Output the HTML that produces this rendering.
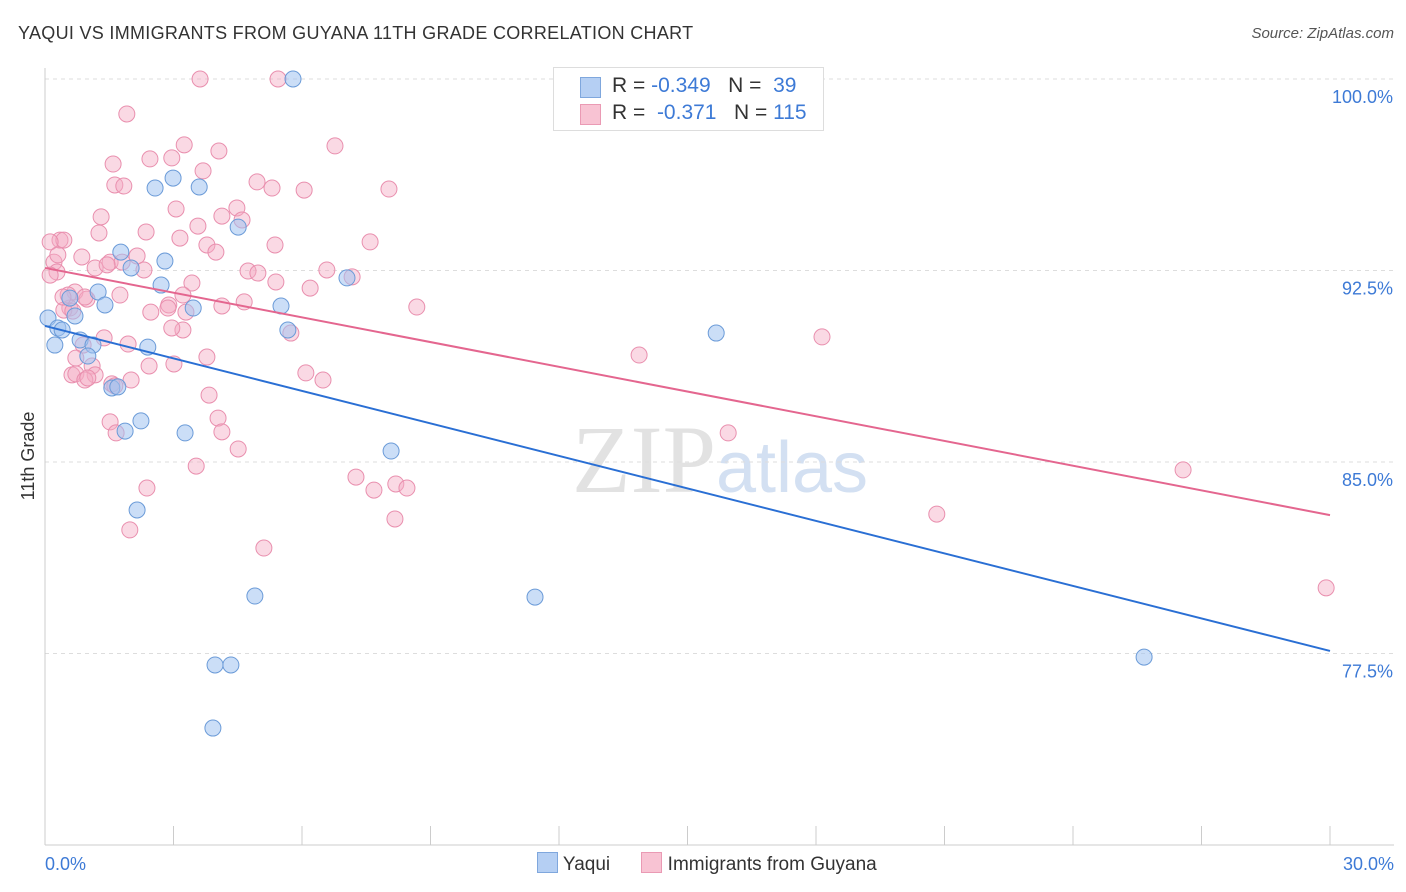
<!DOCTYPE html>
<html><head><meta charset="utf-8"><style>
body{margin:0;background:#fff;font-family:"Liberation Sans",sans-serif;}
#wrap{position:relative;width:1406px;height:892px;overflow:hidden;}
.t{position:absolute;white-space:nowrap;}
</style></head><body><div id="wrap">
<div class="t" style="left:18px;top:23px;font-size:18px;color:#333;letter-spacing:0.3px;">YAQUI VS IMMIGRANTS FROM GUYANA 11TH GRADE CORRELATION CHART</div>
<div class="t" style="right:12px;top:25px;font-size:15px;color:#555;font-style:italic;">Source: ZipAtlas.com</div>
<svg id="svg" width="1406" height="892" style="position:absolute;left:0;top:0">
<text x="720" y="492" text-anchor="middle" font-size="96" font-family="Liberation Serif,serif" fill="#e2e2e2">ZIP<tspan font-family="Liberation Sans,sans-serif" font-size="72" fill="#d3e0f2">atlas</tspan></text>
<g id="grid"></g><g id="pts"></g><g id="lines"></g>
<text x="34" y="456" transform="rotate(-90 34 456)" text-anchor="middle" font-size="18" fill="#333">11th Grade</text>
</svg>
<div style="position:absolute;left:553px;top:67px;width:269px;height:62px;border:1px solid #ddd;background:#fff;font-size:21px;">
<div style="position:absolute;left:26px;top:9px;width:19px;height:19px;background:#b5cff3;border:1px solid #7fa7dd;"></div>
<div class="t" style="left:58px;top:6px;color:#333;">R = <span style="color:#3d7ad6">-0.349</span>&nbsp;&nbsp;&nbsp;N = &nbsp;<span style="color:#3d7ad6">39</span></div>
<div style="position:absolute;left:26px;top:36px;width:19px;height:19px;background:#f8c3d3;border:1px solid #ea9ab4;"></div>
<div class="t" style="left:58px;top:33px;color:#333;">R = &nbsp;<span style="color:#3d7ad6">-0.371</span>&nbsp;&nbsp;&nbsp;N = <span style="color:#3d7ad6">115</span></div>
</div>
<div style="position:absolute;left:537px;top:852px;font-size:19px;color:#333;">
<span style="display:inline-block;width:19px;height:19px;background:#b5cff3;border:1px solid #7fa7dd;vertical-align:-3px;"></span> Yaqui
<span style="display:inline-block;width:19px;height:19px;background:#f8c3d3;border:1px solid #ea9ab4;vertical-align:-3px;margin-left:26px;"></span> Immigrants from Guyana</div>
</div>
<script>
const yaquiX=[5.79,2.99,2.57,3.60,4.51,1.77,2.80,2.01,7.05,1.24,2.71,1.40,3.46,5.51,0.58,0.70,0.07,0.30,0.40,5.67,15.67,0.82,1.12,0.23,2.40,1.00,1.56,1.70,1.87,2.24,3.27,8.08,2.15,4.90,11.44,3.97,4.34,25.66,3.92];
const yaquiY=[100,96.12,95.73,95.77,94.20,93.22,92.87,92.60,92.21,91.66,91.93,91.15,91.03,91.11,91.42,90.72,90.64,90.25,90.17,90.17,90.05,89.78,89.58,89.58,89.50,89.15,87.90,87.94,86.21,86.61,86.14,85.43,83.12,79.75,79.71,77.05,77.05,77.36,74.58];
const guyX=[3.62,5.44,1.91,6.77,3.25,4.06,2.45,2.96,1.59,3.69,4.95,1.63,1.84,5.30,6.05,8.03,3.06,4.48,4.13,1.31,4.60,3.57,2.36,1.26,3.15,0.35,0.44,0.12,3.78,5.37,7.59,3.99,1.52,0.86,0.21,2.15,1.80,1.17,1.45,4.74,2.31,6.58,7.17,4.97,0.28,0.12,3.43,5.39,6.19,0.70,0.54,1.75,0.98,3.22,4.13,4.65,2.89,0.93,0.58,0.44,0.65,2.87,2.47,8.68,3.29,3.22,2.96,5.74,1.38,1.94,0.89,18.14,13.87,0.72,3.78,2.43,3.01,1.10,6.09,0.63,0.72,1.17,0.93,1.00,6.49,2.01,1.56,1.63,3.83,4.04,1.52,4.13,15.95,4.51,1.66,26.57,3.53,7.26,7.68,8.19,8.45,2.38,20.82,8.17,1.98,5.11,29.91,0.42,0.30];
const guyY=[100,100,98.63,97.38,97.42,97.18,96.87,96.91,96.67,96.40,95.97,95.85,95.81,95.73,95.65,95.69,94.91,94.95,94.63,94.60,94.48,94.24,94.01,93.97,93.77,93.69,93.69,93.62,93.50,93.50,93.62,93.22,92.83,93.03,92.83,93.07,92.83,92.60,92.72,92.48,92.52,92.52,92.25,92.40,92.44,92.32,92.01,92.05,91.81,91.66,91.54,91.54,91.38,91.54,91.11,91.27,91.15,91.46,91.03,90.95,90.91,91.03,90.87,91.07,90.87,90.17,90.25,90.05,89.86,89.62,89.58,89.90,89.19,89.07,89.11,88.76,88.84,88.76,88.49,88.41,88.45,88.41,88.21,88.29,88.21,88.21,88.06,87.98,87.62,86.72,86.57,86.18,86.14,85.51,86.14,84.69,84.84,84.41,83.90,84.14,83.98,83.98,82.96,82.77,82.34,81.63,80.07,91.46,93.11];
const yTicks=[100,92.5,85,77.5];
const yTickLabels=["100.0%","92.5%","85.0%","77.5%"];
const xEndLabels=["0.0%","30.0%"];
const trendYaqui=[90.33,77.60];
const trendGuy=[92.60,82.92];
const NS="http://www.w3.org/2000/svg";
const X=v=>45+v/30*1285, Y=v=>79+(100-v)/7.5*191.5;
function mk(t,a,p){const e=document.createElementNS(NS,t);for(const k in a)e.setAttribute(k,a[k]);p.appendChild(e);return e;}
const grid=document.getElementById('grid'),svg=document.getElementById('svg');
yTicks.forEach((v,i)=>{
 const l=mk('line',{x1:45,x2:1394,y1:Y(v),y2:Y(v),stroke:'#ddd','stroke-dasharray':'4,4'},grid);
 
 
 const t=mk('text',{x:1393,y:Y(v)+24,'text-anchor':'end','font-size':18,fill:'#3d7ad6'},grid);t.textContent=yTickLabels[i];
 
 
});
const ax=mk('line',{x1:45,x2:1394,y1:845,y2:845,stroke:'#ccc'},grid);


const ay=mk('line',{x1:45,x2:45,y1:68,y2:845,stroke:'#ccc'},grid);


for(let i=0;i<=10;i++){const tk=mk('line',{x1:X(i*3),x2:X(i*3),y1:826,y2:845,stroke:'#ccc'},grid);
 
 }
[[0,'start',45],[30,'end',1394]].forEach((d,i)=>{const t=mk('text',{x:d[2],y:870,'text-anchor':d[1],'font-size':18,fill:'#3d7ad6'},grid);t.textContent=xEndLabels[i];
 
 });
const pts=document.getElementById('pts');
guyX.forEach((x,i)=>{const c=mk('circle',{cx:X(x),cy:Y(guyY[i]),r:8,fill:'rgba(244,170,195,0.45)',stroke:'#e98fae','stroke-width':1},pts);
 
 });
yaquiX.forEach((x,i)=>{const c=mk('circle',{cx:X(x),cy:Y(yaquiY[i]),r:8,fill:'rgba(160,195,240,0.55)',stroke:'#6b9bd8','stroke-width':1},pts);
 
 });
const lines=document.getElementById('lines');
const l1=mk('line',{x1:X(0),y1:Y(trendGuy[0]),x2:X(30),y2:Y(trendGuy[1]),stroke:'#e4668f','stroke-width':2},lines);


const l2=mk('line',{x1:X(0),y1:Y(trendYaqui[0]),x2:X(30),y2:Y(trendYaqui[1]),stroke:'#2a6fd4','stroke-width':2},lines);


</script></body></html>
